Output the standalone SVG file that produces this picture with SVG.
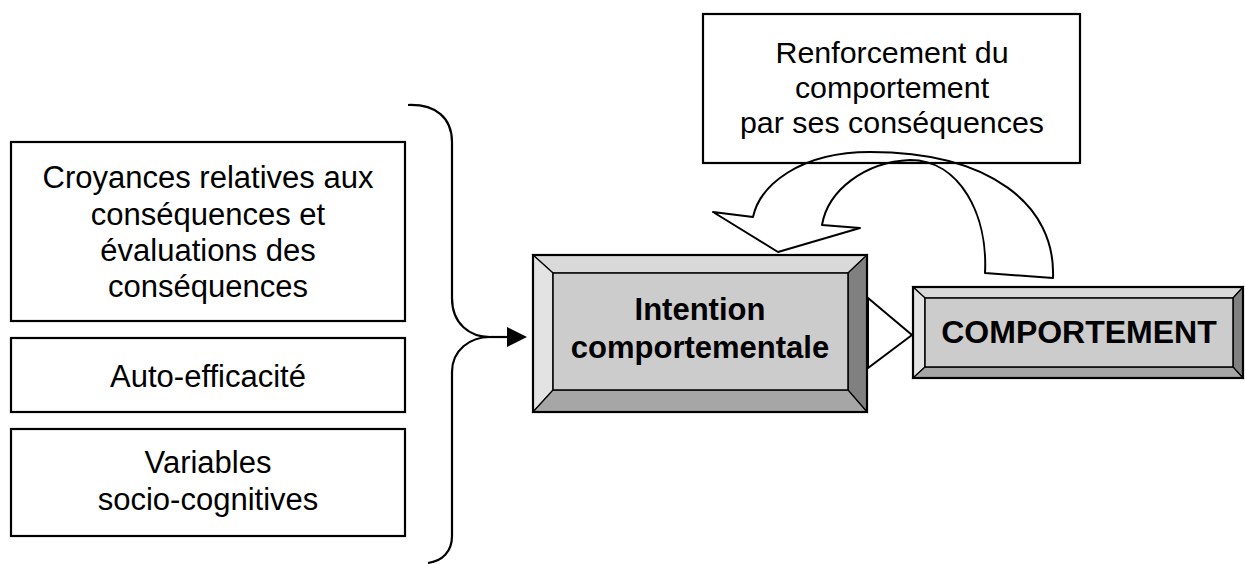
<svg xmlns="http://www.w3.org/2000/svg" width="1245" height="564" viewBox="0 0 1245 564">
<style>
.box{fill:#fff;stroke:#000;stroke-width:2.2}
.t{font-family:"Liberation Sans",Arial,sans-serif;font-size:31px;fill:#000;text-anchor:middle}
.b{font-weight:bold}
.ln{fill:none;stroke:#000;stroke-width:2.2}
.bev{stroke:#000;stroke-width:1.2}
</style>
<defs>
<marker id="ah" markerWidth="20" markerHeight="20" refX="0" refY="10" orient="auto" markerUnits="userSpaceOnUse">
<path d="M0,0 L20,10 L0,20 Z" fill="#000"/>
</marker>
</defs>
<rect width="1245" height="564" fill="#fff"/>

<g id="croyances">
<rect class="box" x="11" y="142" width="394" height="179"/>
<text class="t" x="208" y="188">Croyances relatives aux</text>
<text class="t" x="208" y="225">conséquences et</text>
<text class="t" x="208" y="261">évaluations des</text>
<text class="t" x="208" y="297">conséquences</text>
</g>
<g id="auto-efficacite">
<rect class="box" x="11" y="338" width="394" height="74"/>
<text class="t" x="208" y="387">Auto-efficacité</text>
</g>
<g id="variables">
<rect class="box" x="11" y="429" width="394" height="107"/>
<text class="t" x="208" y="473">Variables</text>
<text class="t" x="208" y="510">socio-cognitives</text>
</g>

<g id="renforcement">
<rect class="box" x="703" y="14" width="377" height="149"/>
<text class="t" x="892" y="63" style="font-size:30.4px">Renforcement du</text>
<text class="t" x="892" y="98" style="font-size:30.4px">comportement</text>
<text class="t" x="892" y="133" style="font-size:30.4px">par ses conséquences</text>
</g>

<g id="intention">
<rect x="533" y="255" width="334" height="157" fill="#cccccc"/>
<polygon class="bev" points="533,255 867,255 848,273 553,273" fill="#d9d9d9"/>
<polygon class="bev" points="533,255 553,273 553,390 533,412" fill="#e3e3e3"/>
<polygon class="bev" points="867,255 867,412 848,390 848,273" fill="#808080"/>
<polygon class="bev" points="533,412 553,390 848,390 867,412" fill="#a6a6a6"/>
<rect x="553" y="273" width="295" height="117" fill="#cccccc" stroke="#000" stroke-width="1.5"/>
<rect x="533" y="255" width="334" height="157" fill="none" stroke="#000" stroke-width="2.2"/>
<text class="t b" x="700" y="320">Intention</text>
<text class="t b" x="700" y="358">comportementale</text>
</g>

<g id="comportement">
<rect x="913" y="287" width="330" height="91" fill="#cccccc"/>
<polygon class="bev" points="913,287 1243,287 1233,298 925,298" fill="#d9d9d9"/>
<polygon class="bev" points="913,287 925,298 925,367 913,378" fill="#e3e3e3"/>
<polygon class="bev" points="1243,287 1243,378 1233,367 1233,298" fill="#808080"/>
<polygon class="bev" points="913,378 925,367 1233,367 1243,378" fill="#a6a6a6"/>
<rect x="925" y="298" width="308" height="69" fill="#cccccc" stroke="#000" stroke-width="1.5"/>
<rect x="913" y="287" width="330" height="91" fill="none" stroke="#000" stroke-width="2.2"/>
<text class="t b" x="1079" y="343" style="font-size:32px">COMPORTEMENT</text>
</g>

<g id="connectors">
<path class="ln" d="M408,105 C436,104 452,118 452,142 L452,298 C452,324 470,337 490,337"/>
<path class="ln" d="M490,337 C470,337 452,350 452,372 L452,536 C452,552 442,561 428,563"/>
<path class="ln" d="M490,337 L507,337" marker-end="url(#ah)"/>
<polygon points="868,298 912,335 868,368" fill="#fff" stroke="#000" stroke-width="2"/>
<path fill="none" stroke="#000" stroke-width="2" stroke-linejoin="round" d="M1053,278 C1056,205 990,152 870,152 C800,152 760,185 753,217 L713,212 L778,252 L860,228 L822,225 C828,190 865,162 910,160 C960,160 988,215 985,273 Z"/>
</g>
</svg>
